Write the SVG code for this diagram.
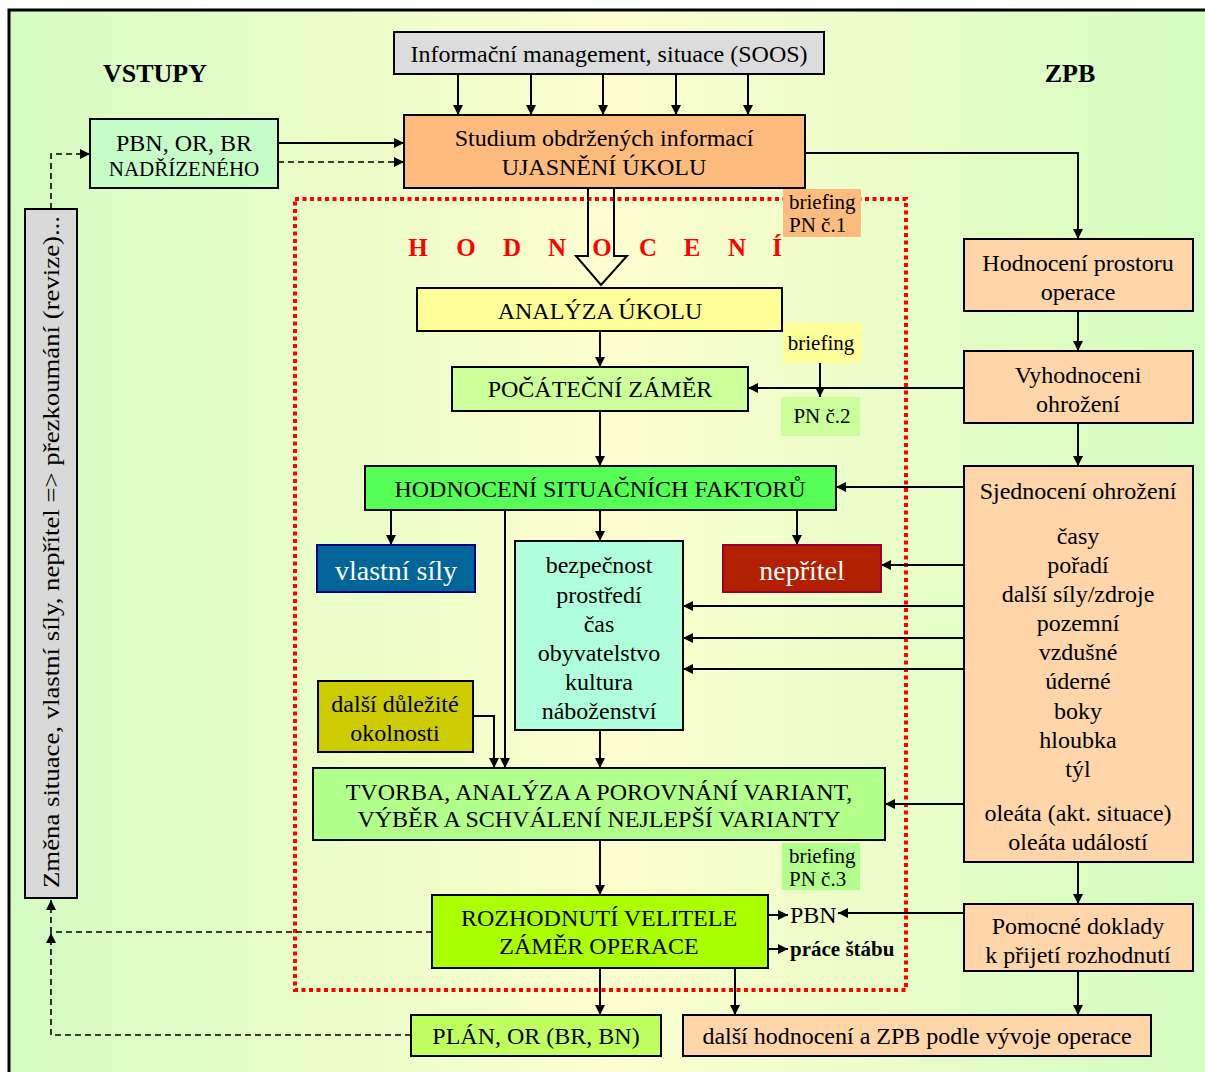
<svg xmlns="http://www.w3.org/2000/svg" width="1205" height="1072" viewBox="0 0 1205 1072">
<defs>
<linearGradient id="bg" x1="0" y1="0" x2="1" y2="0">
<stop offset="0" stop-color="#d4fcc2"/>
<stop offset="0.5" stop-color="#fdfecf"/>
<stop offset="1" stop-color="#d2fcc0"/>
</linearGradient>
<marker id="ah" viewBox="0 0 10 10" refX="10" refY="5" markerWidth="10" markerHeight="10" markerUnits="userSpaceOnUse" orient="auto">
<path d="M0,0 L10,5 L0,10 z" fill="#000"/>
</marker>
</defs>
<style>
.box{stroke:#000;stroke-width:2}
.t{font-family:"Liberation Serif","Times New Roman",serif;font-size:24px;fill:#000;text-anchor:middle}
.s{font-size:21px}
.l{text-anchor:start}
.b{font-weight:bold}
.c{fill:none;stroke:#000;stroke-width:2}
.d{fill:none;stroke:#000;stroke-width:1.6;stroke-dasharray:6 4}
</style>
<rect x="0" y="0" width="1205" height="1072" fill="#fff"/>
<rect x="9" y="10" width="1210" height="1080" fill="url(#bg)" stroke="#000" stroke-width="3"/>

<text class="t b" x="155" y="82" style="font-size:26px">VSTUPY</text>
<text class="t b" x="1070" y="82" style="font-size:26px">ZPB</text>

<g id="hodnoceni-frame">
<rect x="295" y="199" width="611" height="791" fill="none" stroke="#ff0000" stroke-width="4" stroke-dasharray="4 3.5"/>
<text class="t b" y="256" style="font-size:25px;fill:#ff0000"><tspan x="418">H</tspan><tspan x="466">O</tspan><tspan x="512">D</tspan><tspan x="557">N</tspan><tspan x="602">O</tspan><tspan x="648">C</tspan><tspan x="692">E</tspan><tspan x="737">N</tspan><tspan x="777">Í</tspan></text>
</g>

<g id="connectors">
<line class="c" x1="458" y1="74" x2="458" y2="115" marker-end="url(#ah)"/>
<line class="c" x1="531" y1="74" x2="531" y2="115" marker-end="url(#ah)"/>
<line class="c" x1="603" y1="74" x2="603" y2="115" marker-end="url(#ah)"/>
<line class="c" x1="676" y1="74" x2="676" y2="115" marker-end="url(#ah)"/>
<line class="c" x1="748" y1="74" x2="748" y2="115" marker-end="url(#ah)"/>
<line class="c" x1="278" y1="143" x2="404" y2="143" marker-end="url(#ah)"/>
<line class="d" x1="278" y1="162" x2="404" y2="162" marker-end="url(#ah)"/>
<path class="d" d="M51,209 V154 H90" marker-end="url(#ah)"/>
<path d="M588,188 V256 H576 L601,285 L627,256 H614 V188" fill="none" stroke="#000" stroke-width="2"/>
<line class="c" x1="600" y1="331" x2="600" y2="367" marker-end="url(#ah)"/>
<line class="c" x1="964" y1="388" x2="748" y2="388" marker-end="url(#ah)"/>
<line class="c" x1="820" y1="363" x2="820" y2="397" marker-end="url(#ah)"/>
<line class="c" x1="600" y1="411" x2="600" y2="466" marker-end="url(#ah)"/>
<path class="c" d="M805,153 H1078 V239" marker-end="url(#ah)"/>
<line class="c" x1="1078" y1="311" x2="1078" y2="351" marker-end="url(#ah)"/>
<line class="c" x1="1078" y1="423" x2="1078" y2="466" marker-end="url(#ah)"/>
<line class="c" x1="1078" y1="862" x2="1078" y2="904" marker-end="url(#ah)"/>
<line class="c" x1="1078" y1="971" x2="1078" y2="1015" marker-end="url(#ah)"/>
<line class="c" x1="964" y1="487" x2="836" y2="487" marker-end="url(#ah)"/>
<line class="c" x1="964" y1="565" x2="881" y2="565" marker-end="url(#ah)"/>
<line class="c" x1="964" y1="606" x2="683" y2="606" marker-end="url(#ah)"/>
<line class="c" x1="964" y1="638" x2="683" y2="638" marker-end="url(#ah)"/>
<line class="c" x1="964" y1="669" x2="683" y2="669" marker-end="url(#ah)"/>
<line class="c" x1="964" y1="804" x2="885" y2="804" marker-end="url(#ah)"/>
<line class="c" x1="391" y1="510" x2="391" y2="545" marker-end="url(#ah)"/>
<line class="c" x1="600" y1="510" x2="600" y2="541" marker-end="url(#ah)"/>
<line class="c" x1="797" y1="510" x2="797" y2="545" marker-end="url(#ah)"/>
<line class="c" x1="505" y1="510" x2="505" y2="768" marker-end="url(#ah)"/>
<path class="c" d="M473,716 H494 V768" marker-end="url(#ah)"/>
<line class="c" x1="600" y1="730" x2="600" y2="768" marker-end="url(#ah)"/>
<line class="c" x1="600" y1="840" x2="600" y2="895" marker-end="url(#ah)"/>
<line class="c" x1="768" y1="915" x2="788" y2="915" marker-end="url(#ah)"/>
<line class="c" x1="768" y1="949" x2="788" y2="949" marker-end="url(#ah)"/>
<line class="c" x1="964" y1="913" x2="838" y2="913" marker-end="url(#ah)"/>
<line class="c" x1="600" y1="968" x2="600" y2="1015" marker-end="url(#ah)"/>
<line class="c" x1="735" y1="968" x2="735" y2="1015" marker-end="url(#ah)"/>
<path class="d" d="M432,932 H51 V900" marker-end="url(#ah)"/>
<path class="d" d="M411,1035 H51 V933" marker-end="url(#ah)"/>
</g>

<g id="info">
<rect class="box" x="394" y="32" width="430" height="42" fill="#dcdcdc"/>
<text class="t" x="609" y="62">Informační management, situace (SOOS)</text>
</g>
<g id="studium">
<rect class="box" x="404" y="115" width="401" height="73" fill="#fdbc7e"/>
<text class="t" x="604" y="146">Studium obdržených informací</text>
<text class="t" x="604" y="175">UJASNĚNÍ ÚKOLU</text>
</g>
<g id="pbn-nadrizeneho">
<rect class="box" x="90" y="119" width="188" height="69" fill="#c6fcc6"/>
<text class="t" x="184" y="151">PBN, OR, BR</text>
<text class="t s" x="184" y="176">NADŘÍZENÉHO</text>
</g>
<g id="zmena">
<rect class="box" x="25" y="209" width="52" height="689" fill="#d9d9d9"/>
<text class="t" transform="translate(59,552) rotate(-90)" x="0" y="0" textLength="672" lengthAdjust="spacingAndGlyphs">Změna situace, vlastní síly, nepřítel =&gt; přezkoumání (revize)...</text>
</g>
<g id="briefing1">
<rect x="783" y="189" width="78" height="48" fill="#fdbc7e"/>
<text class="t s l" x="789" y="209">briefing</text>
<text class="t s l" x="789" y="232">PN č.1</text>
</g>
<g id="analyza">
<rect class="box" x="417" y="288" width="365" height="43" fill="#ffff99"/>
<text class="t" x="600" y="319">ANALÝZA ÚKOLU</text>
</g>
<g id="briefing2">
<rect x="783" y="323" width="79" height="40" fill="#ffff99"/>
<text class="t s" x="821" y="350">briefing</text>
</g>
<g id="pn2">
<rect x="781" y="397" width="79" height="39" fill="#ccff99"/>
<text class="t s" x="822" y="423">PN č.2</text>
</g>
<g id="pocatecni">
<rect class="box" x="452" y="367" width="296" height="44" fill="#ccff99"/>
<text class="t" x="600" y="397">POČÁTEČNÍ ZÁMĚR</text>
</g>
<g id="hsf">
<rect class="box" x="365" y="466" width="471" height="44" fill="#55ff55"/>
<text class="t" x="600" y="497">HODNOCENÍ SITUAČNÍCH FAKTORŮ</text>
</g>
<g id="vlastni">
<rect x="317" y="545" width="158" height="47" fill="#006699" stroke="#000080" stroke-width="2"/>
<text class="t" x="396" y="580" style="font-size:28px;fill:#fff">vlastní síly</text>
</g>
<g id="nepritel">
<rect x="723" y="545" width="158" height="47" fill="#b32000" stroke="#990033" stroke-width="2"/>
<text class="t" x="802" y="580" style="font-size:28px;fill:#fff">nepřítel</text>
</g>
<g id="bezpecnost">
<rect class="box" x="515" y="541" width="168" height="189" fill="#b0ffdc"/>
<text class="t" x="599" y="573">bezpečnost</text>
<text class="t" x="599" y="603">prostředí</text>
<text class="t" x="599" y="632">čas</text>
<text class="t" x="599" y="661">obyvatelstvo</text>
<text class="t" x="599" y="690">kultura</text>
<text class="t" x="599" y="719">náboženství</text>
</g>
<g id="dalsi-okolnosti">
<rect class="box" x="318" y="681" width="155" height="71" fill="#cccc00"/>
<text class="t" x="395" y="712">další důležité</text>
<text class="t" x="395" y="741">okolnosti</text>
</g>
<g id="tvorba">
<rect class="box" x="313" y="768" width="572" height="72" fill="#b3ff8c"/>
<text class="t" x="599" y="800">TVORBA, ANALÝZA A POROVNÁNÍ VARIANT,</text>
<text class="t" x="599" y="827">VÝBĚR A SCHVÁLENÍ NEJLEPŠÍ VARIANTY</text>
</g>
<g id="briefing3">
<rect x="782" y="843" width="78" height="47" fill="#b3ff8c"/>
<text class="t s l" x="789" y="863">briefing</text>
<text class="t s l" x="789" y="886">PN č.3</text>
</g>
<g id="rozhodnuti">
<rect class="box" x="432" y="895" width="336" height="73" fill="#aaff00"/>
<text class="t" x="599" y="926">ROZHODNUTÍ VELITELE</text>
<text class="t" x="599" y="954">ZÁMĚR OPERACE</text>
</g>
<g id="pbn">
<text class="t l" x="790" y="923">PBN</text>
</g>
<g id="prace-stabu">
<text class="t s b l" x="790" y="956">práce štábu</text>
</g>
<g id="plan">
<rect class="box" x="411" y="1015" width="250" height="41" fill="#c0ff60"/>
<text class="t" x="536" y="1044">PLÁN, OR (BR, BN)</text>
</g>
<g id="dalsi-hodnoceni">
<rect class="box" x="683" y="1015" width="468" height="41" fill="#ffd5aa"/>
<text class="t" x="917" y="1044">další hodnocení a ZPB podle vývoje operace</text>
</g>
<g id="prostor">
<rect class="box" x="964" y="239" width="229" height="72" fill="#ffd5aa"/>
<text class="t" x="1078" y="271">Hodnocení prostoru</text>
<text class="t" x="1078" y="300">operace</text>
</g>
<g id="vyhodnoceni">
<rect class="box" x="964" y="351" width="229" height="72" fill="#ffd5aa"/>
<text class="t" x="1078" y="383">Vyhodnoceni</text>
<text class="t" x="1078" y="412">ohrožení</text>
</g>
<g id="sjednoceni">
<rect class="box" x="964" y="466" width="229" height="396" fill="#ffd5aa"/>
<text class="t" x="1078" y="499">Sjednocení ohrožení</text>
<text class="t" x="1078" y="544">časy</text>
<text class="t" x="1078" y="573">pořadí</text>
<text class="t" x="1078" y="602">další síly/zdroje</text>
<text class="t" x="1078" y="631">pozemní</text>
<text class="t" x="1078" y="660">vzdušné</text>
<text class="t" x="1078" y="689">úderné</text>
<text class="t" x="1078" y="719">boky</text>
<text class="t" x="1078" y="748">hloubka</text>
<text class="t" x="1078" y="777">týl</text>
<text class="t" x="1078" y="821">oleáta (akt. situace)</text>
<text class="t" x="1078" y="850">oleáta událostí</text>
</g>
<g id="pomocne">
<rect class="box" x="964" y="904" width="229" height="67" fill="#ffd5aa"/>
<text class="t" x="1078" y="934">Pomocné doklady</text>
<text class="t" x="1078" y="963">k přijetí rozhodnutí</text>
</g>
</svg>
